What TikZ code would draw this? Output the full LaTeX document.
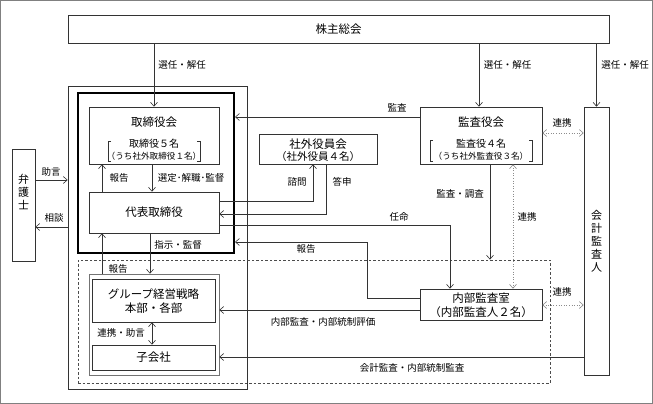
\documentclass[tikz,border=0pt]{standalone}
\usepackage{fontspec}
\setmainfont{Noto Sans CJK JP}
\usetikzlibrary{arrows.meta,calc}
\newcommand\myfs[1]{\fontsize{#1}{#1}\selectfont}
\begin{document}
\begin{tikzpicture}[x=1pt,y=-1pt,
  box/.style={draw=black!80, line width=0.6pt, rectangle, inner sep=0pt, font=\myfs{11.5}},
  gbox/.style={draw=black!55, line width=0.6pt, rectangle, inner sep=0pt},
  arr/.style={draw=black!80, line width=0.6pt, -{Straight Barb[length=4pt,width=7pt]}},
  darr/.style={draw=black!45, line width=0.6pt, dotted, {Straight Barb[length=4pt,width=7pt]}-{Straight Barb[length=4pt,width=7pt]}},
  sarr/.style={draw=black!80, line width=0.6pt, {Straight Barb[length=4pt,width=7pt]}-{Straight Barb[length=4pt,width=7pt]}},
  lbl/.style={font=\myfs{9.5}, inner sep=0pt},
  ttl/.style={font=\myfs{11.5}, inner sep=0pt},
  brk/.style={draw=black!80, line width=0.5pt}
]
\useasboundingbox (0,0) rectangle (653,404);
\draw[black!50, line width=1pt] (0.5,0.5) rectangle (652.5,403.5);

% group frames
\node[box, minimum width=179, minimum height=303] (grpA) at (157.5,237.5) {};
\node[draw=black, line width=2pt, inner sep=0pt, minimum width=156, minimum height=160] (grpB) at (156,173) {};
\node[draw=black!70, line width=0.7pt, dash pattern=on 2.5pt off 2pt, inner sep=0pt, minimum width=472, minimum height=123] (dbox) at (314,321.5) {};
\node[gbox, minimum width=130, minimum height=101] (grpC) at (154,324.5) {};

% boxes
\node[box, minimum width=541, minimum height=28] (kabu) at (338.5,29) {株主総会};
\node[box, minimum width=130, minimum height=57] (tb) at (154,135.5) {};
\node[ttl] (tbt) at (154,122) {取締役会};
\node[inner sep=0pt, font=\myfs{10}] (tb1) at (154,144) {取締役５名};
\node[inner sep=0pt, font=\myfs{8.6}] (tb2) at (154,156) {（うち社外取締役１名）};
\draw[brk] (111,141) -- (108,141) -- (108,161) -- (111,161);
\draw[brk] (197,141) -- (200,141) -- (200,161) -- (197,161);

\node[box, minimum width=130, minimum height=41] (rep) at (154,212.5) {代表取締役};
\node[box, minimum width=23, minimum height=112, align=center, font=\myfs{11}, text height=9pt] (law) at (23.5,205) {弁\\[2pt]護\\[2pt]士};

\node[box, minimum width=118, minimum height=30] (ext) at (318,149) {};
\node[ttl] (extt) at (318,144) {社外役員会};
\node[inner sep=0pt, font=\myfs{10.5}] (ext1) at (318,156.5) {（社外役員４名）};

\node[box, minimum width=122, minimum height=57] (acb) at (481,135.5) {};
\node[ttl] (acbt) at (481,122) {監査役会};
\node[inner sep=0pt, font=\myfs{10}] (acb1) at (481,144) {監査役４名};
\node[inner sep=0pt, font=\myfs{8.6}] (acb2) at (481,156) {（うち社外監査役３名）};
\draw[brk] (433,140) -- (430,140) -- (430,161) -- (433,161);
\draw[brk] (529,140) -- (532,140) -- (532,161) -- (529,161);

\node[box, minimum width=25, minimum height=268] (aud) at (596.5,241) {};
\node[inner sep=0pt, align=center, font=\myfs{11}] (audt) at (596.5,241) {会\\[2pt]計\\[2pt]監\\[2pt]査\\[2pt]人};

\node[box, minimum width=122, minimum height=31] (ia) at (481,304.5) {};
\node[ttl] (iat) at (481,298) {内部監査室};
\node[ttl] (ia1) at (481,312.5) {（内部監査人２名）};

\node[box, minimum width=123, minimum height=43] (dept) at (153.5,300.5) {};
\node[ttl] (dept1) at (153.5,294) {グループ経営戦略};
\node[ttl] (dept2) at (153.5,308) {本部・各部};
\node[box, minimum width=123, minimum height=25] (sub) at (153.5,357.5) {子会社};

% connectors from shareholders
\draw[arr] (kabu.south -| tb.north) -- (tb.north);
\draw[arr] ([xshift=-2pt]kabu.south -| acb.north) -- ([xshift=-2pt]acb.north);
\draw[arr] (kabu.south -| aud.north) -- (aud.north);
\node[lbl] (l1) at (182,65) {選任・解任};
\node[lbl] (l2) at (507.5,65) {選任・解任};
\node[lbl] (l3) at (625,65) {選任・解任};

% board <-> representative
\draw[arr] ([xshift=-52pt]rep.north) -- ([xshift=-52pt]tb.south);
\draw[arr] ([xshift=-2pt]tb.south) -- ([xshift=-2pt]rep.north);
\node[lbl] (l4) at (119,178) {報告};
\node[lbl] (l5) at (191,178) {選定･解職･監督};

% lawyer
\draw[arr] ([yshift=25pt]law.east) -- ([yshift=25pt]law.east -| grpA.west);
\draw[arr] ([yshift=-22pt]law.east -| grpA.west) -- ([yshift=-22pt]law.east);
\node[lbl] (l6) at (51,172) {助言};
\node[lbl] (l7) at (54,218) {相談};

% audit board to board
\draw[arr] ([yshift=18.5pt]acb.west) -- ([yshift=18.5pt]acb.west -| grpB.east);
\node[lbl] (l8) at (397,108) {監査};

% outside officers
\draw[arr] ([yshift=11.5pt]rep.east) -| ([xshift=-5pt]ext.south);
\draw[arr] ([xshift=8pt]ext.south) |- ([yshift=-1.5pt]rep.east);
\node[lbl] (l9) at (297,182) {諮問};
\node[lbl] (l10) at (342,182) {答申};

% appointment of internal audit
\draw[arr] ([yshift=-12.5pt]rep.east) -| ([xshift=-31pt]ia.north);
\node[lbl] (l11) at (399,217) {任命};

% report from internal audit
\coordinate (rk) at (367,242);
\draw[arr] ([yshift=6.5pt]ia.west) -| (rk) -- (rk -| grpB.east);
\node[lbl] (l12) at (306,249) {報告};

% audit board to internal audit area
\draw[arr] ([xshift=9pt]acb.south) -- ([xshift=9pt]acb.south |- dbox.north);
\node[lbl] (l13) at (460,194) {監査・調査};
\draw[darr] ([xshift=32pt]acb.south) -- ([xshift=32pt]ia.north);
\node[lbl] (l14) at (527,217) {連携};
\draw[darr] ([yshift=2.5pt]acb.east) -- ([yshift=2.5pt]acb.east -| aud.west);
\node[lbl] (l15) at (562,123) {連携};
\draw[darr] ([yshift=-0.5pt]ia.east) -- ([yshift=-0.5pt]ia.east -| aud.west);
\node[lbl] (l16) at (562,292) {連携};

% representative <-> group
\draw[arr] ([xshift=-4pt]rep.south) -- ([xshift=-4pt]rep.south |- grpC.north);
\node[lbl] (l17) at (178,245) {指示・監督};
\draw[arr] ([xshift=-52pt]grpC.north) -- ([xshift=-52pt]grpC.north |- rep.south);
\node[lbl] (l18) at (118,269) {報告};

\draw[sarr] ([xshift=-1.5pt]dept.south) -- ([xshift=-1.5pt]sub.north);
\node[lbl] (l19) at (121,333) {連携・助言};

% audits into group
\draw[arr] ([yshift=-5.5pt]ia.west) -- ([yshift=-5.5pt]ia.west -| grpC.east);
\node[lbl] (l20) at (323,322) {内部監査・内部統制評価};
\draw[arr] ([yshift=-116pt]aud.west) -- ([yshift=-116pt]aud.west -| grpC.east);
\node[lbl] (l21) at (412,368) {会計監査・内部統制監査};
\end{tikzpicture}
\end{document}
